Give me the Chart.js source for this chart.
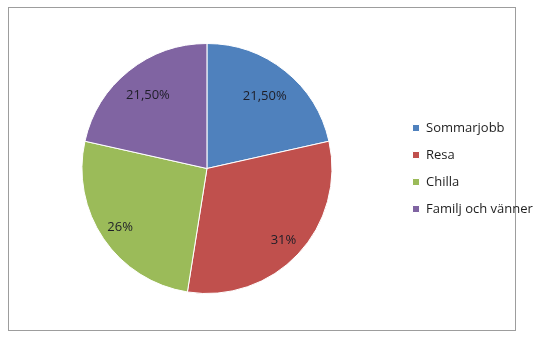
<!DOCTYPE html>
<html>
<head>
<meta charset="utf-8">
<script src="https://cdn.jsdelivr.net/npm/chart.js@4"></script>
<style>
  body { margin: 0; background: #fff; }
  #wrap { position: relative; width: 556px; height: 337px; }
  #frame { position: absolute; left: 8px; top: 7px; width: 508px; height: 324px;
           box-sizing: border-box; border: 1px solid #9d9d9d; }
  #myChart { position: absolute; left: 0; top: 0; }
</style>
</head>
<body>
<div id="wrap">
  <div id="frame"></div>
  <canvas id="myChart" width="556" height="337"></canvas>
</div>
<script>
// Kategorier och andelar (procent)
const categories = ['Sommarjobb', 'Resa', 'Chilla', 'Familj och vänner'];
const shares = [21.5, 31, 26, 21.5];
const colors = ['#4F81BD', '#C0504D', '#9BBB59', '#8064A2'];
// hur långt ut etiketten sitter, andel av radien
const labelDist = [0.74, 0.84, 0.84, 0.755];

const fontFamily = '"Open Sans", "Liberation Sans", sans-serif';
const fontSize = 13;
const legendPad = 14;
const boxSize = 7;

// mät längsta legendtexten så att legenden hamnar rätt
const m = document.createElement('canvas').getContext('2d');
m.font = fontSize + 'px ' + fontFamily;
const maxText = Math.max(...categories.map(c => m.measureText(c).width));
const legendWidth = legendPad + boxSize + fontSize / 2 + maxText + 10;
const rightPad = Math.max(0, 157.5 - legendWidth);

// etiketter i tårtbitarna, t.ex. "21,50%" och "31%"
const fmt = v => (v % 1 ? v.toFixed(2).replace('.', ',') : String(v)) + '%';

const sliceLabels = {
  id: 'sliceLabels',
  afterDatasetsDraw(chart) {
    const ctx = chart.ctx;
    const meta = chart.getDatasetMeta(0);
    ctx.save();
    ctx.font = fontSize + 'px ' + fontFamily;
    ctx.fillStyle = '#1e1e28';
    ctx.textAlign = 'center';
    ctx.textBaseline = 'middle';
    meta.data.forEach((arc, i) => {
      const p = arc.getProps(['x', 'y', 'startAngle', 'endAngle', 'outerRadius'], true);
      const mid = (p.startAngle + p.endAngle) / 2;
      const r = p.outerRadius * labelDist[i];
      ctx.fillText(fmt(shares[i]), p.x + Math.cos(mid) * r, p.y + Math.sin(mid) * r);
    });
    ctx.restore();
  }
};

const myChart = new Chart(document.getElementById('myChart'), {
  type: 'pie',
  data: {
    labels: categories,
    datasets: [{
      data: shares,
      backgroundColor: colors,
      borderColor: '#ffffff',
      borderWidth: 1
    }]
  },
  options: {
    responsive: false,
    animation: false,
    radius: 125,
    layout: { padding: { left: 15.4, right: rightPad, top: 1, bottom: 1 } },
    plugins: {
      tooltip: { enabled: false },
      legend: {
        position: 'right',
        labels: {
          boxWidth: boxSize,
          boxHeight: boxSize,
          padding: legendPad,
          color: '#1e1e1e',
          font: { family: fontFamily, size: fontSize }
        }
      }
    }
  },
  plugins: [sliceLabels]
});
</script>
</body>
</html>
